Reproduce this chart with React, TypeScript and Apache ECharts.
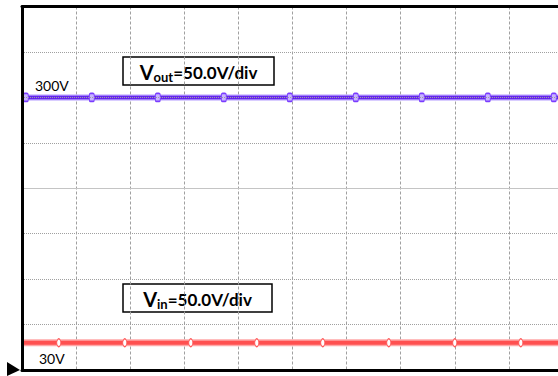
import React, { useEffect, useRef } from "react";
import * as echarts from "echarts";

// Time axis in divisions (10-div screen), vertical axis in volts (50 V/div, 8 divisions)
const timeTicks = [0, 1, 2, 3, 4, 5, 6, 7, 8, 9, 10];
const voltTicks = [0, 50, 100, 150, 200, 250, 300, 350, 400];

// Output trace: sample times (div) and volts
const vOutTime = [0, 0.07, 1.29, 2.51, 3.73, 4.95, 6.17, 7.39, 8.61, 9.83, 10];
const vOutVolts = [300, 300, 300, 300, 300, 300, 300, 300, 300, 300, 300];

// Input trace: sample times (div) and volts
const vInTime = [0, 0.68, 1.9, 3.12, 4.34, 5.56, 6.78, 8.0, 9.22, 10];
const vInVolts = [30, 30, 30, 30, 30, 30, 30, 30, 30, 30];

const levelLabels = ["300V", "30V"];

const FONT = "Lato, 'Open Sans', 'DejaVu Sans', sans-serif";

function buildPoints(times: number[], volts: number[]) {
  return times.map((t, i) => {
    const edge = i === 0 || i === times.length - 1;
    return edge ? { value: [t, volts[i]], symbol: "none" } : { value: [t, volts[i]] };
  });
}

function glow(name: string, times: number[], volts: number[], color: string, width: number) {
  return {
    name,
    type: "line",
    data: times.map((t, i) => [t, volts[i]]),
    symbol: "none",
    silent: true,
    lineStyle: { color, width },
    z: 2,
  };
}

export default function App() {
  const ref = useRef<HTMLDivElement>(null);

  useEffect(() => {
    if (!ref.current) return;
    const chart = echarts.init(ref.current, undefined, { renderer: "svg" });

    const boxText = (x: number, y: number, w: number, h: number, sub: string) => ({
      type: "group",
      x,
      y,
      children: [
        {
          type: "rect",
          shape: { x: 0, y: 0, width: w, height: h },
          style: { fill: "#ffffff", stroke: "#000000", lineWidth: 1.5 },
        },
        {
          type: "text",
          x: w / 2,
          y: h / 2 + 1,
          style: {
            text: `{v|V}{s|${sub}}{r|=50.0V/div}`,
            align: "center",
            verticalAlign: "middle",
            rich: {
              v: { fontFamily: FONT, fontWeight: "bold", fontSize: 20, lineHeight: 22, fill: "#000" },
              r: { fontFamily: FONT, fontWeight: "bold", fontSize: 17, lineHeight: 22, fill: "#000" },
              s: {
                fontFamily: FONT,
                fontWeight: "bold",
                fontSize: 13,
                lineHeight: 13,
                verticalAlign: "bottom",
                padding: [9, 0, 0, 0],
                fill: "#000",
              },
            },
          },
        },
      ],
    });

    const frame = { show: true, onZero: false, lineStyle: { color: "#000000", width: 3 } };

    chart.setOption({
      animation: false,
      backgroundColor: "#ffffff",
      grid: {
        left: 22,
        top: 6.5,
        right: -5,
        height: 363.5,
        show: false,
        containLabel: false,
        outerBoundsMode: "none",
      },
      xAxis: [
        {
          type: "value",
          position: "bottom",
          min: timeTicks[0],
          max: timeTicks[timeTicks.length - 1],
          interval: 1,
          axisLine: frame,
          axisTick: { show: false },
          axisLabel: { show: false },
          splitLine: {
            show: true,
            showMinLine: false,
            showMaxLine: false,
            lineStyle: { color: "#a0a0a0", width: 1, type: [3, 2] },
          },
        },
        {
          type: "value",
          position: "top",
          min: timeTicks[0],
          max: timeTicks[timeTicks.length - 1],
          interval: 1,
          axisLine: frame,
          axisTick: { show: false },
          axisLabel: { show: false },
          splitLine: { show: false },
        },
      ],
      yAxis: {
        type: "value",
        min: voltTicks[0],
        max: voltTicks[voltTicks.length - 1],
        interval: 50,
        axisLine: frame,
        axisTick: { show: false },
        axisLabel: { show: false },
        splitLine: {
          show: true,
          showMinLine: false,
          showMaxLine: false,
          lineStyle: { color: "#a0a0a0", width: 1, type: [1, 1] },
        },
        z: 5,
      },
      series: [
        glow("Vout glow", vOutTime, vOutVolts, "#b49cff", 6),
        {
          name: "Vout",
          type: "line",
          data: buildPoints(vOutTime, vOutVolts),
          symbol: "roundRect",
          symbolSize: [5, 8],
          showAllSymbol: true,
          itemStyle: { color: "#c8b4ff", borderColor: "#7a3cff", borderWidth: 1.2 },
          lineStyle: { color: "#6424ee", width: 3.5 },
          markLine: {
            silent: true,
            symbol: "none",
            label: { show: false },
            lineStyle: { color: "#c4c4c4", width: 1.2, type: "solid" },
            data: [{ yAxis: voltTicks[4] }],
          },
          z: 3,
        },
        glow("Vin glow", vInTime, vInVolts, "#ffa8a8", 7),
        {
          name: "Vin",
          type: "line",
          data: buildPoints(vInTime, vInVolts),
          symbol: "circle",
          symbolSize: [4, 8],
          showAllSymbol: true,
          itemStyle: { color: "#ffffff", borderColor: "#ff5a5a", borderWidth: 1 },
          lineStyle: { color: "#ff5050", width: 4 },
          z: 3,
        },
      ],
      graphic: [
        boxText(123, 57, 151, 28, "out"),
        boxText(123, 284, 149, 28, "in"),
        {
          type: "text",
          x: 35,
          y: 85,
          style: {
            text: levelLabels[0],
            fontFamily: FONT,
            fontSize: 14,
            fill: "#000",
            verticalAlign: "middle",
          },
        },
        {
          type: "text",
          x: 39,
          y: 358,
          style: {
            text: levelLabels[1],
            fontFamily: FONT,
            fontSize: 14,
            fill: "#000",
            verticalAlign: "middle",
          },
        },
        {
          type: "polygon",
          shape: { points: [[7, 362], [20, 370], [7, 376]] },
          style: { fill: "#000000" },
        },
      ],
    });

    return () => chart.dispose();
  }, []);

  return (
    <div
      ref={ref}
      style={{ width: 558, height: 376, position: "fixed", left: 0, top: 0 }}
    />
  );
}
